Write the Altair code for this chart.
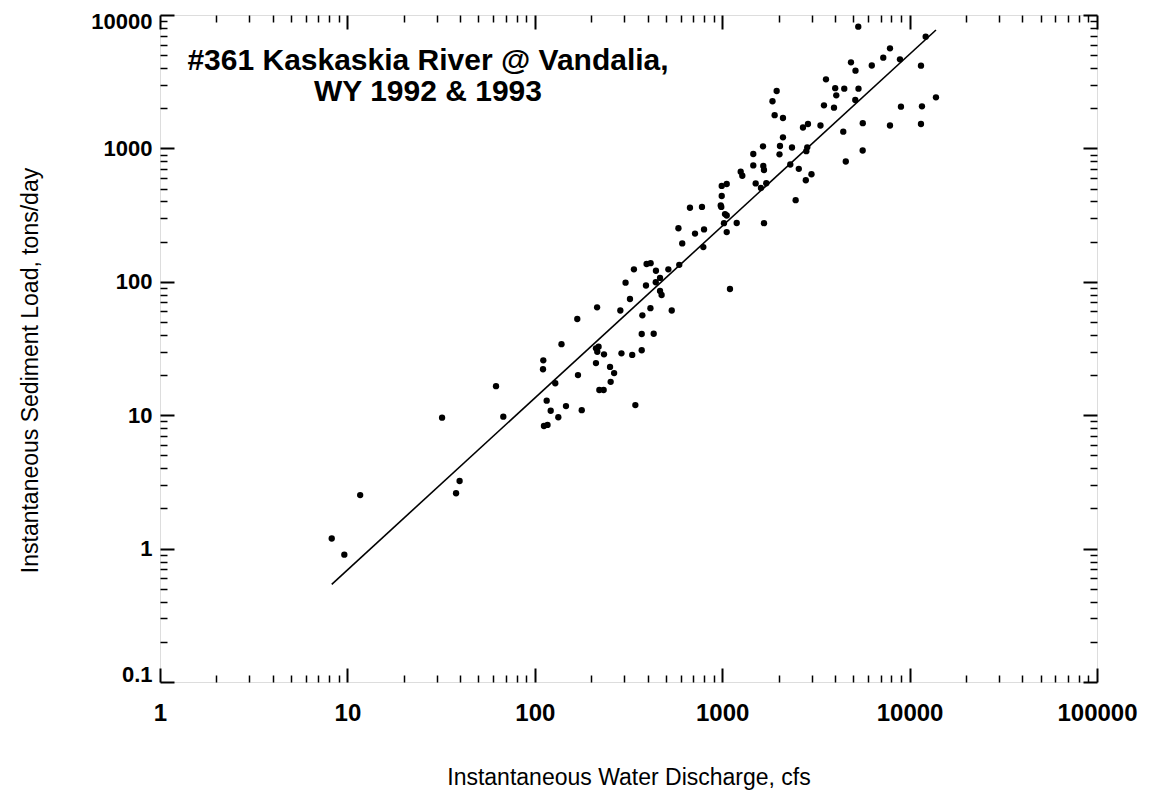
import altair as alt
import pandas as pd

# ---- data ----
discharge = [8.25, 9.63, 11.7, 38.0, 39.7, 32.0, 62.1, 67.9, 111, 110.6, 115.7, 121.6, 111.9, 116.9,
             128.6, 133.5, 138.8, 146.7, 168.5, 170, 178, 215, 212, 219, 215.5, 212, 234, 252, 265,
             254, 221, 233, 286, 290, 305, 322, 331, 338, 344, 372, 375, 372, 395, 415, 392, 414,
             431, 443, 442, 466, 466, 475, 516, 538, 590, 584, 612, 673, 716, 780, 800, 793, 1100,
             994, 1057, 994, 982, 989, 1035, 1057, 1022, 1057, 1195, 1255, 1280, 1465, 1465, 1509,
             1610, 1651, 1657, 1671, 1719, 1671, 1855, 1905, 1953, 2034, 2022, 2110, 2110, 2357,
             2308, 2466, 2563, 2698, 2869, 2844, 2810, 2793, 2995, 3345, 3492, 3579, 3949, 4008,
             4062, 4427, 4481, 4565, 4866, 5130, 5143, 5337, 5323, 5625, 5618, 6284, 7236, 7858,
             7858, 8994, 8884, 11500, 11641, 11500, 12183, 13826]
sediment = [1.19, 0.90, 2.52, 2.60, 3.21, 9.58, 16.5, 9.75, 25.8, 22.1, 12.85, 10.8, 8.30, 8.45,
            17.35, 9.65, 34.1, 11.7, 52.6, 20.0, 10.9, 64.4, 31.7, 32.6, 29.9, 24.6, 28.6, 23.0, 20.7,
            17.8, 15.45, 15.45, 60.9, 29.1, 98.5, 74.3, 28.3, 124, 11.9, 30.7, 56.1, 40.6, 136, 138,
            93.8, 63.4, 40.8, 121, 99.2, 107, 85.3, 79.6, 124, 60.9, 134, 252, 194, 359, 230, 364,
            247, 182, 88.3, 523, 541, 440, 373, 364, 322, 314, 275, 236, 276, 669, 624, 908, 745,
            546, 505, 1037, 738, 689, 548, 275, 2258, 1774, 2694, 1042, 903, 1211, 1690, 1016, 757,
            409, 703, 1435, 1524, 1019, 953, 577, 640, 1485, 2104, 3296, 2019, 2827, 2501, 1334,
            2803, 798, 4420, 2306, 3823, 2803, 8172, 1545, 965, 4183, 4786, 1485, 5629, 2054, 4655,
            4169, 2068, 1524, 6877, 2416]

fit_discharge = [8.25, 13826]
fit_sediment = [0.54, 7720]

x_major = [1, 10, 100, 1000, 10000, 100000]
y_major = [0.1, 1, 10, 100, 1000, 10000]
x_minor = [2, 3, 4, 5, 6, 7, 8, 9,
           20, 30, 40, 50, 60, 70, 80, 90,
           200, 300, 400, 500, 600, 700, 800, 900,
           2000, 3000, 4000, 5000, 6000, 7000, 8000, 9000,
           20000, 30000, 40000, 50000, 60000, 70000, 80000, 90000]
y_minor = [0.2, 0.3, 0.4, 0.5, 0.6, 0.7, 0.8, 0.9,
           2, 3, 4, 5, 6, 7, 8, 9,
           20, 30, 40, 50, 60, 70, 80, 90,
           200, 300, 400, 500, 600, 700, 800, 900,
           2000, 3000, 4000, 5000, 6000, 7000, 8000, 9000]

title_lines = ["#361 Kaskaskia River @ Vandalia,", "WY 1992 & 1993"]
x_title = "Instantaneous Water Discharge, cfs"
y_title = "Instantaneous Sediment Load, tons/day"

FONT = "Liberation Sans"

pts = pd.DataFrame({"q": discharge, "s": sediment})
fit = pd.DataFrame({"q": fit_discharge, "s": fit_sediment})

xs = alt.Scale(type="log", domain=[1, 100000])
ys = alt.Scale(type="log", domain=[0.1, 10000])


def tick_axis(orient, values, size, width):
    return alt.Axis(orient=orient, values=values, labels=False, domain=False, ticks=True,
                    tickSize=size, offset=-size, tickColor="black", tickWidth=width,
                    grid=False, title=None)


label_x = alt.Axis(orient="bottom", values=x_major, format="~g", ticks=False, domain=False,
                   grid=False, labelFont=FONT, labelFontWeight="bold", labelFontSize=24,
                   labelColor="black", labelPadding=19, labelFlush=False, labelOverlap=False,
                   title=x_title, titleFont=FONT, titleFontWeight="normal", titleFontSize=23,
                   titleColor="black", titleY=95, titleBaseline="middle",
                   titleAlign="center")
label_y = alt.Axis(orient="left", values=y_major, format="~g", ticks=False, domain=False,
                   grid=False, labelFont=FONT, labelFontWeight="bold", labelFontSize=22,
                   labelColor="black", labelPadding=8, labelFlush=True, labelFlushOffset=4,
                   labelOverlap=False,
                   title=y_title, titleFont=FONT, titleFontWeight="normal", titleFontSize=23,
                   titleColor="black", titleX=-130, titleY=355, titleBaseline="middle",
                   titleAlign="center", titleAngle=270)

points = alt.Chart(pts).mark_circle(size=40, color="black", opacity=1).encode(
    x=alt.X("q:Q", scale=xs, axis=label_x),
    y=alt.Y("s:Q", scale=ys, axis=label_y),
)

line = alt.Chart(fit).mark_line(color="black", strokeWidth=1.6).encode(
    x=alt.X("q:Q", scale=xs, axis=tick_axis("bottom", x_major, 14, 2)),
    y=alt.Y("s:Q", scale=ys, axis=tick_axis("left", y_major, 14, 2)),
)

inv1 = alt.Chart(fit).mark_circle(opacity=0).encode(
    x=alt.X("q:Q", scale=xs, axis=tick_axis("bottom", x_minor, 7, 1.5)),
    y=alt.Y("s:Q", scale=ys, axis=tick_axis("left", y_minor, 7, 1.5)),
)
inv2 = alt.Chart(fit).mark_circle(opacity=0).encode(
    x=alt.X("q:Q", scale=xs, axis=tick_axis("top", x_major, 14, 2)),
    y=alt.Y("s:Q", scale=ys, axis=tick_axis("right", y_major, 14, 2)),
)
inv3 = alt.Chart(fit).mark_circle(opacity=0).encode(
    x=alt.X("q:Q", scale=xs, axis=tick_axis("top", x_minor, 7, 1.5)),
    y=alt.Y("s:Q", scale=ys, axis=tick_axis("right", y_minor, 7, 1.5)),
)

label = alt.Chart(pd.DataFrame({"k": [0]})).mark_text(
    font=FONT, fontSize=30, fontWeight="bold", color="black", align="center",
    baseline="alphabetic", lineHeight=31,
).encode(x=alt.value(268), y=alt.value(55), text=alt.value(title_lines))

chart = alt.layer(points, line, inv1, inv2, inv3, label).resolve_scale(
    x="shared", y="shared"
).resolve_axis(
    x="independent", y="independent"
).properties(
    width=937, height=667,
    padding={"left": 152, "top": 7, "right": 60, "bottom": 112},
    autosize=alt.AutoSizeParams(type="none"),
).configure_view(
    stroke="black", strokeWidth=2
).configure(background="white")

chart.save("out.html", embed_options={"renderer": "svg", "actions": False})
